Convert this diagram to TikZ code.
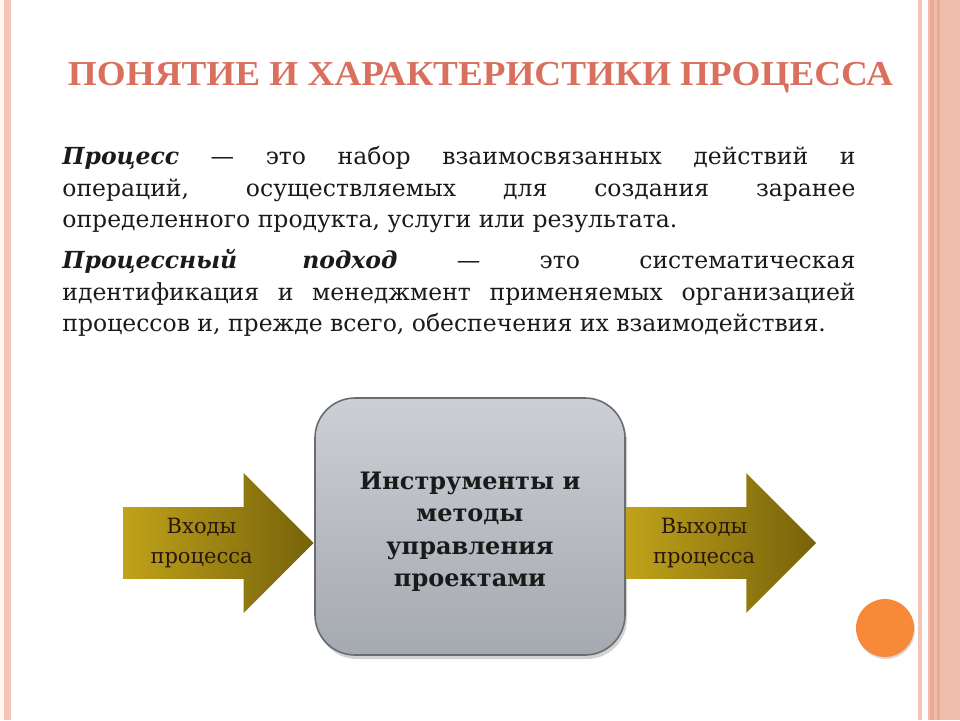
\documentclass[tikz,border=0pt]{standalone}
\usepackage{fontspec}
\setmainfont{DejaVu Serif}
\newfontfamily\titlefont{Liberation Serif}
\usepackage{graphicx}
\usepackage{xcolor}
\usepackage{tikz}
\usetikzlibrary{shapes.arrows,shadows,positioning,calc}

\definecolor{titlered}{RGB}{217,112,94}
\definecolor{edgepink}{RGB}{244,196,184}
\definecolor{edgecream}{RGB}{255,248,236}
\definecolor{bandpink}{RGB}{239,190,171}
\definecolor{banddark}{RGB}{234,170,148}
\definecolor{goldlt}{RGB}{222,192,46}
\definecolor{goldmd}{RGB}{192,162,26}
\definecolor{golddk}{RGB}{118,98,10}
\definecolor{boxtop}{RGB}{204,207,212}
\definecolor{boxbot}{RGB}{165,169,176}
\definecolor{boxedge}{RGB}{105,108,112}
\definecolor{dotorange}{RGB}{247,137,56}
\definecolor{inktext}{RGB}{26,26,26}
\definecolor{arrink}{RGB}{40,22,10}

\begin{document}
\begin{tikzpicture}[
  x=0.5pt,y=-0.5pt,
  deftext/.style={anchor=north west,inner sep=0pt,text width=396.5pt,align=justify,
    font=\fontsize{11.75pt}{15.75pt}\selectfont,text=inktext},
  procbox/.style={draw=boxedge,line width=0.8pt,rounded corners=20pt,
    minimum width=155pt,minimum height=128.5pt,
    top color=boxtop,bottom color=boxbot,
    drop shadow={shadow xshift=1pt,shadow yshift=-2pt,opacity=0.35}},
  boxtext/.style={align=center,inner sep=0pt,
    font=\bfseries\fontsize{12pt}{16.25pt}\selectfont,text=inktext},
  goldarrow/.style={single arrow,single arrow head extend=17pt,
    inner xsep=0pt,inner ysep=17.75pt,
    minimum height=95pt,minimum width=69.5pt,
    left color=goldmd,middle color=goldlt,right color=golddk},
  arrtext/.style={align=center,inner sep=0pt,font=\fontsize{10.5pt}{15pt}\selectfont,text=arrink},
  dotc/.style={circle,minimum size=29pt,inner sep=0pt,fill=dotorange,
    drop shadow={shadow xshift=0.5pt,shadow yshift=-1pt,opacity=0.3}}
]
\useasboundingbox (0,0) rectangle (960,720);
% side borders
\fill[edgecream] (0,0) rectangle (4,720);
\fill[edgepink] (4,0) rectangle (11,720);
\fill[edgepink] (918,0) rectangle (922,720);
\fill[bandpink] (928,0) rectangle (960,720);
\fill[banddark] (930,0) rectangle (934,720);
\fill[banddark] (937,0) rectangle (940,720);

% title
\node[text=titlered,inner sep=0pt,font=\titlefont\bfseries\fontsize{17.5pt}{21pt}\selectfont] (title) at (480.5,78)
  {\resizebox{412.5pt}{\height}{ПОНЯТИЕ И ХАРАКТЕРИСТИКИ ПРОЦЕССА}};

% definitions
\node[deftext] (def1) at (62,146) {\textbf{\textit{Процесс}} — это набор взаимосвязанных действий и\linebreak операций, осуществляемых для создания заранее\linebreak определенного продукта, услуги или результата.};
\node[deftext,below=8pt of def1.south west,anchor=north west] (def2) {\textbf{\textit{Процессный подход}} — это систематическая\linebreak идентификация и менеджмент применяемых организацией\linebreak процессов и, прежде всего, обеспечения их взаимодействия.};

% process scheme
\node[procbox] (tools) at (470,526.5) {};
\node[boxtext] (toolstext) at ([yshift=-2.5pt]tools.center) {Инструменты и\\методы\\управления\\проектами};
\node[goldarrow,anchor=tip] (inarr) at ([yshift=-8.25pt]tools.west) {};
\node[goldarrow,anchor=tail] (outarr) at ([yshift=-8.25pt]tools.east) {};
\node[arrtext] (intext) at ($(inarr.tail)!0.41!(inarr.tip)$) {Входы\\процесса};
\node[arrtext] (outtext) at ($(outarr.tail)!0.41!(outarr.tip)$) {Выходы\\процесса};

\node[dotc] (dot) at (885,628) {};
\end{tikzpicture}
\end{document}
